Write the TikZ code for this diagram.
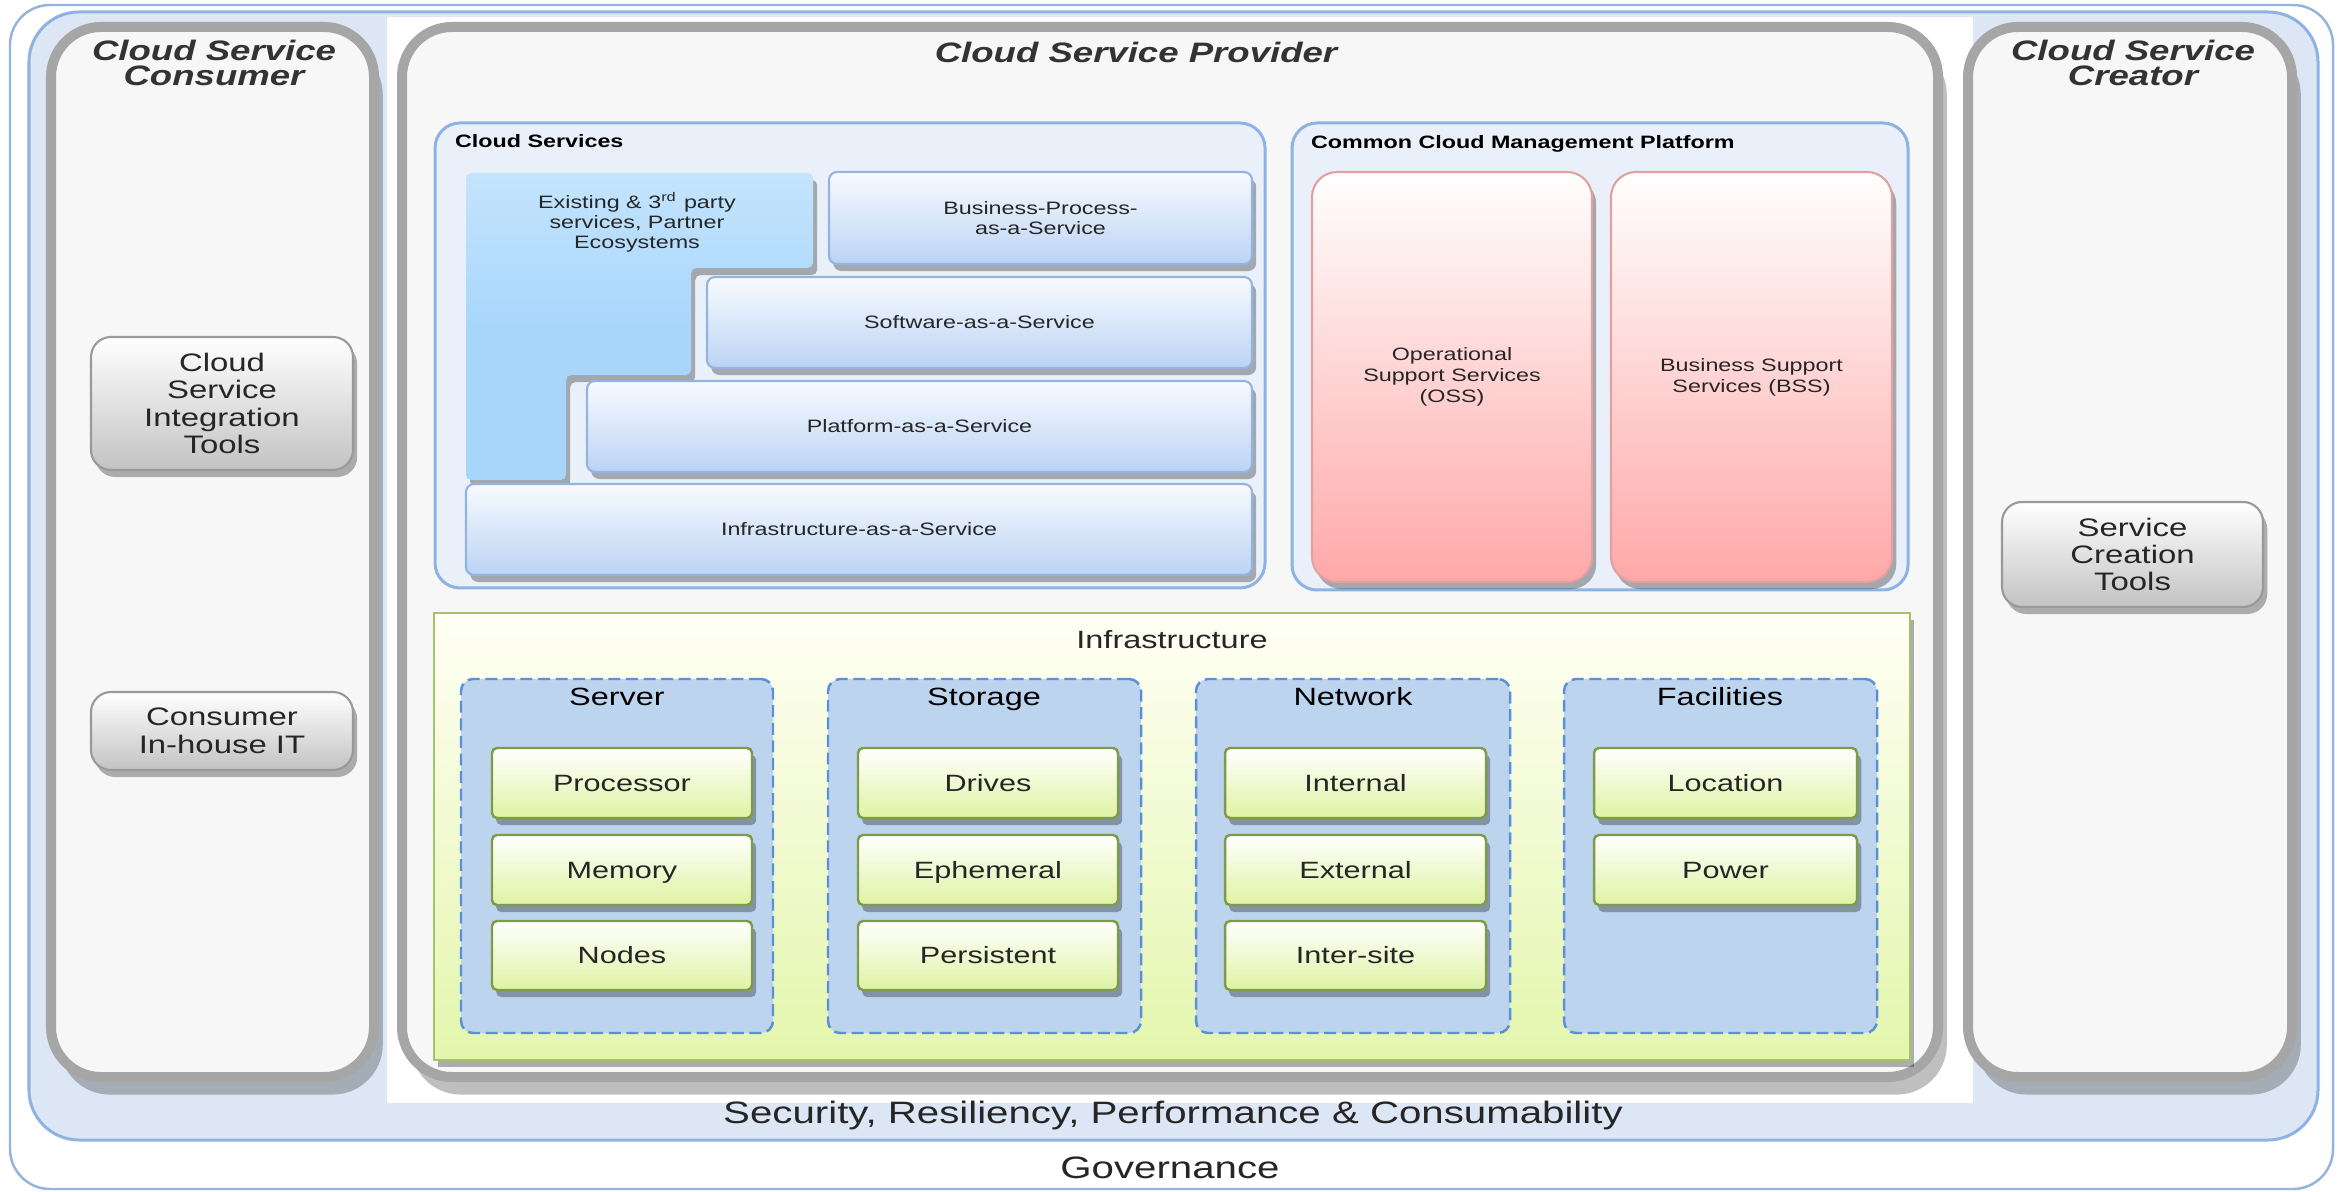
\documentclass[tikz,border=0pt]{standalone}
\usepackage{fontspec}
\setmainfont{Liberation Sans}[FakeStretch=1.3]
\usetikzlibrary{shadows}
\definecolor{govline}{HTML}{95B3DE}
\definecolor{secfill}{HTML}{DCE6F4}
\definecolor{secline}{HTML}{8DB3E2}
\definecolor{panelgray}{HTML}{A6A6A6}
\definecolor{panelfill}{HTML}{F7F7F7}
\definecolor{csfill}{HTML}{EAF0FA}
\definecolor{extblue}{HTML}{A8D6FB}
\definecolor{exttop}{HTML}{C4E4FD}
\definecolor{bluetop}{HTML}{F8FBFF}
\definecolor{bluebot}{HTML}{BCD3F4}
\definecolor{blueline}{HTML}{93B3E0}
\definecolor{pinkbot}{HTML}{FFA8A8}
\definecolor{pinkline}{HTML}{E3A0A0}
\definecolor{infratop}{HTML}{FFFFF5}
\definecolor{infrabot}{HTML}{E3F6AC}
\definecolor{infraline}{HTML}{A6C26A}
\definecolor{grpfill}{HTML}{BDD4EE}
\definecolor{grpline}{HTML}{5B90D8}
\definecolor{itembot}{HTML}{DFF3A3}
\definecolor{itemline}{HTML}{7F9A48}
\definecolor{toolbot}{HTML}{C3C3C3}
\definecolor{toolline}{HTML}{999999}
\definecolor{txt}{HTML}{262626}
\definecolor{ttl}{HTML}{333333}
\newcommand\fs[2]{\fontsize{#1}{#2}\selectfont}
\newcommand\boxnode[7]{\node[#1, minimum width={(#5-(#3))*0.01cm}, minimum height={(#6-(#4))*0.01cm}] (#2) at ({(#3+#5)/2},{(#4+#6)/2}) {#7};}
\tikzset{
  every node/.style={inner sep=0pt, outer sep=0pt, text=txt},
  pshadow/.style={drop shadow={shadow xshift=2.5pt, shadow yshift=-5pt, fill=black, opacity=0.25}},
  sshadow/.style={drop shadow={shadow xshift=1.2pt, shadow yshift=-2pt, fill=black, opacity=0.3}},
  govbox/.style={draw=govline, line width=0.7pt, fill=white, rounded corners=0.4cm},
  secbox/.style={draw=secline, line width=0.03cm, fill=secfill, rounded corners=0.5cm},
  whitebox/.style={fill=white},
  panel/.style={draw=panelgray, line width=0.1cm, fill=panelfill, rounded corners=0.5cm, pshadow},
  ptitle/.style={font=\fs{8}{7.1}\bfseries\itshape, text=ttl, align=center},
  tool/.style={draw=toolline, line width=0.6pt, top color=white, bottom color=toolbot, rounded corners=0.2cm, sshadow, align=center, font=\fs{7.2}{7.8}},
  csbox/.style={draw=secline, line width=0.03cm, fill=csfill, rounded corners=0.25cm},
  lbl/.style={font=\fs{5.1}{6}\bfseries, text=black, text height=3.65pt, text depth=0pt},
  svc/.style={draw=blueline, line width=0.6pt, top color=bluetop, bottom color=bluebot, rounded corners=0.08cm, sshadow, align=center, font=\fs{5.1}{5.7}},
  extshape/.style={top color=exttop, bottom color=extblue, middle color=extblue, rounded corners=1.5pt, sshadow},
  pinkbox/.style={draw=pinkline, line width=0.6pt, top color=white, bottom color=pinkbot, rounded corners=0.25cm, sshadow, align=center, font=\fs{5.1}{6}},
  infrabox/.style={draw=infraline, line width=0.8pt, top color=infratop, bottom color=infrabot, sshadow},
  grp/.style={draw=grpline, dash pattern=on 3.4pt off 1.6pt, line width=0.7pt, fill=grpfill, rounded corners=0.12cm},
  gtitle/.style={font=\fs{7.1}{8}, text=black, anchor=base},
  item/.style={draw=itemline, line width=0.7pt, top color=white, bottom color=itembot, rounded corners=0.05cm, sshadow, font=\fs{6.7}{8}, text height=4.8pt, text depth=0pt},
  big/.style={font=\fs{8.8}{10}, text=txt, text height=6.3pt, text depth=0pt}
}
\begin{document}
\begin{tikzpicture}[x=0.01cm, y=-0.01cm]
\useasboundingbox (0,0) rectangle (2337,1192);
% background layers
\boxnode{govbox}{gov}{10}{5}{2333}{1189}{}
\boxnode{secbox}{sec}{29}{12}{2318}{1140}{}
\boxnode{whitebox}{wbg}{387}{17}{1973}{1103}{}
\node[big] (govT) at (1170,1167) {Governance};
\node[big] (secT) at (1173,1112) {Security, Resiliency, Performance \& Consumability};
% panels
\boxnode{panel}{consumer}{51}{27}{374}{1077}{}
\boxnode{panel}{provider}{402}{27}{1938}{1077}{}
\boxnode{panel}{creator}{1968}{27}{2292}{1077}{}
\node[ptitle] (consumerT) at (214,63) {Cloud Service\\Consumer};
\node[ptitle, text height=5.7pt, text depth=0pt] (providerT) at (1136,52) {Cloud Service Provider};
\node[ptitle] (creatorT) at (2133,63) {Cloud Service\\Creator};
% tools
\boxnode{tool}{cit}{91}{337}{353}{470}{Cloud\\Service\\Integration\\Tools}
\boxnode{tool}{cih}{91}{692}{353}{770}{Consumer\\In-house IT}
\boxnode{tool}{sct}{2002}{502}{2263}{607}{Service\\Creation\\Tools}
% cloud services
\boxnode{csbox}{cs}{435}{123}{1265}{588}{}
\node[lbl, anchor=west] (csT) at (455,141) {Cloud Services};
\path[extshape] (466,173) -- (813,173) -- (813,268) -- (691,268) -- (691,375) -- (566,375) -- (566,480) -- (466,480) -- cycle;
\node[align=center, font=\fs{5.1}{5.7}] (extT) at (637,222) {Existing \& 3\textsuperscript{rd} party\\services, Partner\\Ecosystems};
\boxnode{svc}{bpaas}{829}{172}{1252}{264}{Business-Process-\\as-a-Service}
\boxnode{svc}{saas}{707}{277}{1252}{368}{Software-as-a-Service}
\boxnode{svc}{paas}{587}{381}{1252}{472}{Platform-as-a-Service}
\boxnode{svc}{iaas}{466}{484}{1252}{575}{Infrastructure-as-a-Service}
% management platform
\boxnode{csbox}{ccmp}{1292}{123}{1908}{590}{}
\node[lbl, anchor=west] (ccmpT) at (1311,142) {Common Cloud Management Platform};
\boxnode{pinkbox}{oss}{1312}{172}{1592}{582}{Operational\\Support Services\\(OSS)}
\boxnode{pinkbox}{bss}{1611}{172}{1892}{582}{Business Support\\Services (BSS)}
% infrastructure
\boxnode{infrabox}{infra}{434}{613}{1910}{1060}{}
\node[font=\fs{7.1}{8}, text height=5.1pt, text depth=0pt] (infraT) at (1172,640) {Infrastructure};
\boxnode{grp}{server}{461}{679}{773}{1033}{}
\boxnode{grp}{storage}{828}{679}{1141}{1033}{}
\boxnode{grp}{network}{1196}{679}{1510}{1033}{}
\boxnode{grp}{facil}{1564}{679}{1877}{1033}{}
\node[gtitle] (serverT) at (617,706) {Server};
\node[gtitle] (storageT) at (984,706) {Storage};
\node[gtitle] (networkT) at (1353,706) {Network};
\node[gtitle] (facilT) at (1720,706) {Facilities};
\boxnode{item}{proc}{492}{748}{752}{818}{Processor}
\boxnode{item}{mem}{492}{835}{752}{905}{Memory}
\boxnode{item}{nodes}{492}{921}{752}{990}{Nodes}
\boxnode{item}{drives}{858}{748}{1118}{818}{Drives}
\boxnode{item}{ephem}{858}{835}{1118}{905}{Ephemeral}
\boxnode{item}{persist}{858}{921}{1118}{990}{Persistent}
\boxnode{item}{internal}{1225}{748}{1486}{818}{Internal}
\boxnode{item}{external}{1225}{835}{1486}{905}{External}
\boxnode{item}{intersite}{1225}{921}{1486}{990}{Inter-site}
\boxnode{item}{location}{1594}{748}{1857}{818}{Location}
\boxnode{item}{power}{1594}{835}{1857}{905}{Power}
\end{tikzpicture}
\end{document}
